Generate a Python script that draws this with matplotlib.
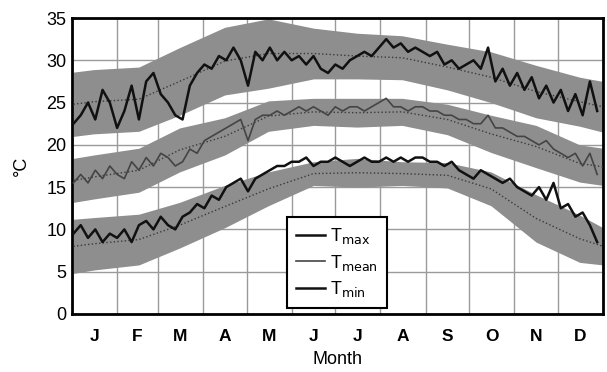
import numpy as np
import matplotlib
matplotlib.use('Agg')
import matplotlib.pyplot as plt

plt.rcParams['font.family'] = ['Liberation Sans', 'DejaVu Sans']

# daily series read every 5 days
days = np.arange(1, 366, 5)

tmax = [22.5, 23.5, 25, 23, 26.5, 25, 22, 24, 27, 23, 27.5, 28.5, 26, 25, 23.5,
        23, 27, 28.5, 29.5, 29, 30.5, 30, 31.5, 30, 27, 31, 30, 31.5, 30, 31,
        30, 30.5, 29.5, 30.5, 29, 28.5, 29.5, 29, 30, 30.5, 31, 30.5, 31.5, 32.5, 31.5,
        32, 31, 31.5, 31, 30.5, 31, 29.5, 30, 29, 29.5, 30, 29, 31.5, 27.5, 29,
        27, 28.5, 26.5, 28, 25.5, 27, 25, 26.5, 24, 26, 23.5, 27.5, 24]

tmean = [15.5, 16.5, 15.5, 17, 16, 17.5, 16.5, 16, 18, 17, 18.5, 17.5, 19, 18.5, 17.5,
         18, 19.5, 19, 20.5, 21, 21.5, 22, 22.5, 23, 20.5, 23, 23.5, 23.5, 24, 23.5,
         24, 24.5, 24, 24.5, 24, 23.5, 24.5, 24, 24.5, 24.5, 24, 24.5, 25, 25.5, 24.5,
         24.5, 24, 24.5, 24.5, 24, 24, 23.5, 23.5, 23, 23, 22.5, 22.5, 23.5, 22, 22,
         21.5, 21, 21, 20.5, 20, 20.5, 19.5, 19, 18.5, 19, 17.5, 19, 16.5]

tmin = [9.5, 10.5, 9, 10, 8.5, 9.5, 9, 10, 8.5, 10.5, 11, 10, 11.5, 10.5, 10,
        11.5, 12, 13, 12.5, 14, 13.5, 15, 15.5, 16, 14.5, 16, 16.5, 17, 17.5, 17.5,
        18, 18, 18.5, 17.5, 18, 18, 18.5, 18, 17.5, 18, 18.5, 18, 18, 18.5, 18,
        18.5, 18, 18.5, 18.5, 18, 18, 17.5, 18, 17, 16.5, 16, 17, 16.5, 16, 15.5,
        16, 15, 14.5, 14, 15, 13.5, 15.5, 12.5, 13, 11.5, 12, 10.5, 8.5]

# climatological mean and spread (mid-month)
band_days = [1, 15, 46, 74, 105, 135, 166, 196, 227, 258, 288, 319, 349, 365]
tmax_clim = [24.8, 25.1, 25.4, 27.5, 29.9, 30.8, 30.8, 30.5, 30.3, 29.2, 28.0, 26.3, 25.1, 24.5]
tmax_sd = [3.8, 3.8, 3.8, 4.0, 4.0, 4.1, 3.0, 2.7, 2.6, 2.7, 3.0, 3.1, 2.9, 3.0]
tmean_clim = [15.8, 16.2, 17.0, 19.4, 21.0, 23.4, 23.9, 23.8, 23.9, 23.0, 21.3, 19.8, 17.8, 17.4]
tmean_sd = [2.6, 2.6, 2.6, 2.6, 2.2, 1.8, 1.6, 1.7, 1.6, 1.8, 2.2, 2.5, 2.2, 2.2]
tmin_clim = [8.0, 8.3, 8.8, 10.5, 12.7, 14.8, 16.6, 16.7, 16.6, 16.4, 14.8, 11.3, 8.9, 8.0]
tmin_sd = [3.2, 3.1, 3.0, 2.7, 2.5, 2.0, 1.4, 1.7, 1.4, 1.5, 2.0, 2.8, 2.8, 2.2]

months = ['J', 'F', 'M', 'A', 'M', 'J', 'J', 'A', 'S', 'O', 'N', 'D']
month_edges = [0, 31, 59, 90, 120, 151, 181, 212, 243, 273, 304, 334, 365]

fig = plt.figure(figsize=(6.07, 3.72), dpi=100)
ax = fig.add_axes([0.1186, 0.156, 0.8748, 0.7956])

band_col = '#8e8e8e'
for clim, sd in [(tmax_clim, tmax_sd), (tmean_clim, tmean_sd), (tmin_clim, tmin_sd)]:
    c = np.array(clim)
    s = np.array(sd)
    ax.fill_between(band_days, c - s, c + s, color=band_col, lw=0, zorder=2)
    ax.plot(band_days, c, ':', color='#3a3a3a', lw=1.0, zorder=3)

ax.plot(days, tmax, color='#111111', lw=1.8, zorder=4, label=r'T$_{\mathrm{max}}$')
ax.plot(days, tmean, color='#444444', lw=1.2, zorder=4, label=r'T$_{\mathrm{mean}}$')
ax.plot(days, tmin, color='#111111', lw=1.8, zorder=4, label=r'T$_{\mathrm{min}}$')

ax.set_xlim(0, 365)
ax.set_ylim(0, 35)
ax.set_yticks(range(0, 36, 5))
ax.set_xticks(month_edges, minor=True)
centers = [(month_edges[i] + month_edges[i + 1]) / 2 for i in range(12)]
ax.set_xticks(centers)
ax.set_xticklabels(months, fontsize=12.5, fontweight='bold')
ax.tick_params(axis='y', labelsize=13, length=0, pad=4)
ax.tick_params(axis='x', which='both', length=0, pad=11)

ax.grid(True, axis='y', color='#9a9a9a', lw=1.0, zorder=1)
ax.grid(True, axis='x', which='minor', color='#9a9a9a', lw=1.0, zorder=1)
ax.set_axisbelow(True)
for sp in ax.spines.values():
    sp.set_linewidth(2.0)
    sp.set_color('black')

ax.set_xlabel('Month', fontsize=13, labelpad=5)
ax.set_ylabel('°C', fontsize=13, labelpad=12)

leg = ax.legend(loc='lower left', bbox_to_anchor=(0.405, 0.02), fontsize=13,
                handlelength=1.6, handletextpad=0.3, labelspacing=0.35,
                fancybox=False, framealpha=1, edgecolor='black', borderpad=0.5,
                borderaxespad=0)
leg.get_frame().set_linewidth(1.5)

plt.savefig('out.png', dpi=100)
